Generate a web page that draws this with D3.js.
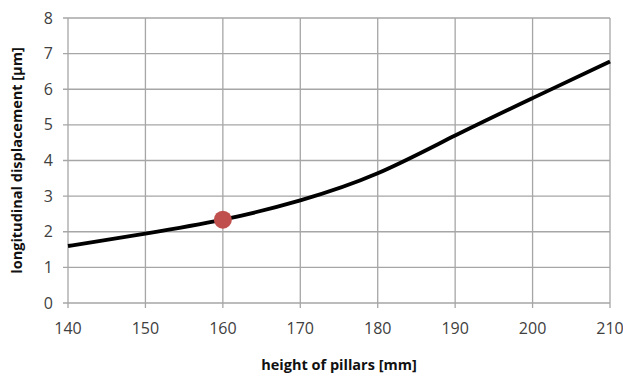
<!DOCTYPE html>
<html><head><meta charset="utf-8">
<script src="https://cdn.jsdelivr.net/npm/d3@7"></script>
<style>body{margin:0;background:#fff;} text{font-family:"Open Sans",sans-serif;}</style>
</head><body><svg id="c" width="623" height="376"></svg>
<script>
const heights = [140,150,160,170,180,190,200,210];
const displacement = [1.6,1.95,2.34,2.88,3.64,4.7,5.75,6.78];
const marker = {x:160, y:2.34};
const xTicks = [140,150,160,170,180,190,200,210];
const yTicks = [0,1,2,3,4,5,6,7,8];
const xTitle = "height of pillars [mm]";
const yTitle = "longitudinal displacement [µm]";

const svg = d3.select("#c");
const m = {l:68, r:13, t:18, b:73};
const W = 623, H = 376;
const x = d3.scaleLinear().domain([140,210]).range([m.l, W-m.r]);
const y = d3.scaleLinear().domain([0,8]).range([H-m.b, m.t]);
const grid = "#a6a6a6";

const g = svg.append("g");
g.selectAll(".hg").data(yTicks).join("line")
  .attr("x1", m.l-5).attr("x2", W-m.r).attr("y1", d=>y(d)).attr("y2", d=>y(d))
  .attr("stroke", grid).attr("stroke-width",1.3);
g.selectAll(".vg").data(xTicks).join("line")
  .attr("x1", d=>x(d)).attr("x2", d=>x(d)).attr("y1", m.t).attr("y2", H-m.b+5)
  .attr("stroke", grid).attr("stroke-width",1.3);

g.selectAll(".yl").data(yTicks).join("text")
  .attr("x", m.l-15).attr("y", d=>y(d)).attr("dy","0.35em")
  .attr("text-anchor","end").attr("font-size",16).attr("fill","#404040").text(d=>d);
g.selectAll(".xl").data(xTicks).join("text")
  .attr("x", d=>x(d)).attr("y", H-m.b+31)
  .attr("text-anchor","middle").attr("font-size",16).attr("fill","#404040").text(d=>d);

svg.append("text").attr("x", (m.l+W-m.r)/2).attr("y", 370)
  .attr("text-anchor","middle").attr("font-size",14.5).attr("font-weight","bold").attr("fill","#111").text(xTitle);
svg.append("text").attr("transform",`translate(22,${(m.t+H-m.b)/2}) rotate(-90)`)
  .attr("text-anchor","middle").attr("font-size",14.5).attr("font-weight","bold").attr("fill","#111").text(yTitle);

const data = heights.map((h,i)=>({h, v:displacement[i]}));
const line = d3.line().x(d=>x(d.h)).y(d=>y(d.v)).curve(d3.curveNatural);
svg.append("path").datum(data).attr("d", line)
  .attr("fill","none").attr("stroke","#000").attr("stroke-width",3.8).attr("stroke-linecap","butt");
svg.append("circle").attr("cx", x(marker.x)).attr("cy", y(marker.y)).attr("r",9).attr("fill","#c0504d");
</script></body></html>
